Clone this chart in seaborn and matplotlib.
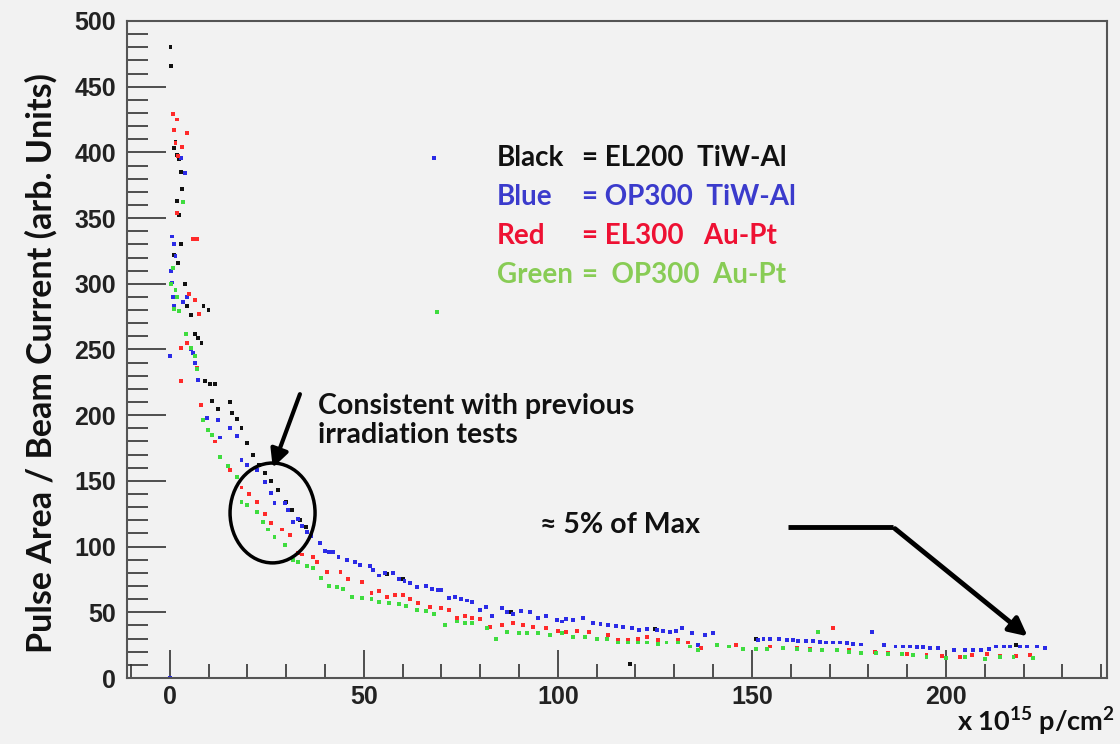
import numpy as np
import pandas as pd
import matplotlib.pyplot as plt
import seaborn as sns
from matplotlib.patches import Ellipse

# data (fluence x 1e15 p/cm2, pulse area / beam current)
black_x = [0.2, 0.3, 1.0, 1.5, 2.0, 2.4, 2.8, 3.2, 1.8, 2.5, 3.5, 1.2, 2.2, 3.0, 4.0,
           4.5, 5.5, 6.5, 7.2, 8.2, 8.7, 10.0, 9.0, 10.5, 11.6, 11.0, 12.4, 15.5, 16.0,
           17.3, 18.5, 19.8, 21.4, 23.0, 24.5, 26.0, 28.0, 30.0, 31.5, 33.5, 35.0,
           56.0, 60.0, 88.0, 118.6, 125.0, 151.0, 218.0]
black_y = [480, 466, 403, 408, 398, 395, 385, 372, 363, 352, 362, 322, 316, 330, 300,
           283, 276, 262, 259, 255, 283, 280, 226, 224, 224, 211, 205, 210, 202,
           197, 190, 179, 170, 162, 156, 150, 143, 134, 128, 120, 115,
           79, 75, 50, 11, 37, 30, 25]

blue_x = [0.0, 0.0, 0.5, 0.3, 0.6, 0.8, 1.0, 1.5, 2.0, 1.0, 3.0, 4.0, 3.5, 4.5, 5.5,
          6.0, 6.5, 7.2, 9.5, 12.4, 13.0, 15.5, 17.3, 18.5, 20.0, 22.4, 24.5, 26.0,
          27.0, 29.6, 30.5, 31.7, 33.0, 34.0, 35.3, 36.5, 38.7, 40.0, 41.0, 42.0,
          43.5, 45.6, 47.7, 49.0, 51.5, 52.5, 54.0, 55.5, 57.5, 59.0, 60.5, 62.0,
          63.6, 66.0, 67.5, 69.0, 70.0, 72.0, 73.5, 75.0, 76.5, 78.0, 80.0, 81.5,
          83.0, 85.5, 87.0, 88.5, 90.5, 92.8, 95.0, 97.0, 99.7, 101.0, 102.0, 104.0,
          106.5, 109.0, 111.0, 113.0, 115.0, 116.8, 119.0, 121.0, 123.0, 125.5,
          127.0, 129.0, 130.5, 132.0, 134.5, 136.0, 138.0, 140.0, 151.5, 153.0,
          154.6, 157.0, 159.0, 160.5, 162.0, 164.0, 165.7, 167.5, 169.0, 171.0,
          172.7, 174.5, 176.0, 178.0, 181.0, 184.0, 187.0, 189.0, 190.7, 192.5,
          194.0, 196.0, 198.0, 202.0, 205.0, 207.0, 209.0, 211.0, 213.0, 215.0,
          216.5, 219.0, 221.0, 223.4, 225.5, 68.0]
blue_y = [0, 245, 336, 310, 301, 290, 283, 321, 354, 330, 396, 384, 286, 290, 250,
          247, 240, 227, 198, 196, 183, 190, 184, 166, 162, 158, 149, 141,
          133, 133, 128, 119, 121, 116, 111, 108, 103, 97, 96, 96,
          92, 90, 88, 86, 85, 82, 78, 80, 80, 75, 74, 72,
          69, 70, 68, 67, 67, 61, 62, 60, 59, 58, 52, 54,
          47, 53, 50, 49, 51, 50, 46, 47, 44, 43, 45, 44,
          45.6, 42, 41, 40, 39.5, 39, 38, 36.5, 37, 36.5,
          36, 35, 35.5, 38, 34, 25, 33, 34, 29, 30,
          30, 29.5, 29, 29, 28, 28, 28, 27.5, 27, 27,
          27, 26.5, 26, 25.5, 35, 25, 24, 24, 24, 23.5,
          23.5, 23, 23, 21, 21, 21, 21, 22, 24, 24,
          24, 24, 24, 24, 23, 396]

red_x = [0.8, 1.8, 1.2, 1.5, 2.2, 3.2, 4.5, 2.0, 6.0, 7.0, 5.0, 6.5, 7.5, 3.0, 4.5,
         3.0, 7.0, 8.0, 11.6, 13.0, 15.5, 18.5, 20.5, 22.4, 24.5, 26.0, 29.0, 31.0,
         33.0, 34.0, 37.0, 38.0, 40.5, 44.0, 46.0, 49.5, 52.0, 54.0, 56.0, 58.0,
         60.0, 62.0, 64.0, 67.0, 70.0, 72.0, 74.0, 76.0, 78.0, 80.0, 82.5, 85.5,
         88.5, 91.0, 93.5, 97.0, 100.0, 102.0, 105.0, 108.0, 110.0, 113.0, 115.5,
         118.0, 120.6, 123.0, 125.8, 128.0, 131.0, 133.5, 137.0, 146.0, 154.6,
         161.6, 165.0, 168.0, 171.0, 175.0, 181.7, 185.0, 190.0, 195.0, 199.0,
         203.6, 206.7, 210.6, 214.0, 218.0, 221.6]
red_y = [429, 425, 417, 407, 397, 404, 415, 354, 334, 334, 292, 288, 277, 251, 255,
         226, 236, 208, 180, 168, 158, 145, 140, 134, 125, 118, 113, 109,
         95, 94, 92, 88, 81, 81, 75, 73, 65, 66, 62, 63,
         63, 60, 57, 54, 53, 52, 46, 47, 46, 45, 39, 40,
         42, 40, 39, 38, 36, 35, 36, 35, 30, 33, 29,
         29, 30, 31, 29, 27, 29, 27, 23, 25, 24,
         23, 22, 21, 38, 21, 20, 19, 18.5, 17.5, 17,
         16, 17.5, 18, 17, 17, 17.5]

green_x = [0.3, 0.8, 1.5, 2.0, 1.0, 2.5, 3.5, 4.3, 5.5, 6.5, 7.0, 8.5, 9.8, 11.0,
           13.0, 15.0, 17.3, 18.5, 20.0, 22.4, 24.0, 25.3, 27.0, 29.6, 31.7, 33.0,
           35.3, 37.0, 39.0, 41.0, 43.0, 44.6, 47.0, 49.5, 52.0, 54.0, 56.5, 59.0,
           61.0, 63.6, 66.0, 68.0, 71.0, 74.0, 76.0, 78.0, 81.7, 84.0, 87.0, 90.0,
           92.0, 95.0, 98.0, 101.0, 104.0, 107.0, 110.0, 112.6, 115.5, 118.0, 120.6,
           123.0, 125.8, 128.0, 131.0, 134.0, 136.0, 141.0, 144.0, 147.7, 151.0,
           154.0, 158.0, 161.6, 165.0, 167.0, 168.0, 172.0, 175.0, 178.0, 182.0,
           185.0, 188.7, 191.5, 195.0, 200.0, 205.0, 210.0, 214.0, 217.4, 222.4, 68.8]
green_y = [300, 312, 295, 290, 281, 279, 362, 262, 251, 245, 235, 196, 189, 185,
           168, 161, 153, 134, 132, 126, 119, 113, 107, 101, 90, 88,
           85, 84, 76, 70, 69, 68, 62, 61, 60, 58, 57, 56,
           55, 52, 51, 49, 40, 43, 42, 42, 38, 30, 35, 34,
           34, 34, 33, 34, 31, 31, 30, 30, 27, 27, 27,
           27, 26, 27, 27, 24, 21, 25, 24, 22, 22,
           22, 23, 22, 21, 35, 21, 21, 20, 19, 19,
           18.5, 18, 17.5, 16, 15, 16, 14.5, 16, 16, 15, 278.5]

samples = ["EL200 TiW-Al", "OP300 TiW-Al", "EL300 Au-Pt", "OP300 Au-Pt"]

df = pd.concat([
    pd.DataFrame({"fluence": black_x, "signal": black_y, "sample": samples[0]}),
    pd.DataFrame({"fluence": blue_x, "signal": blue_y, "sample": samples[1]}),
    pd.DataFrame({"fluence": red_x, "signal": red_y, "sample": samples[2]}),
    pd.DataFrame({"fluence": green_x, "signal": green_y, "sample": samples[3]}),
])

colors = {samples[0]: "#111111", samples[1]: "#2b2be6",
          samples[2]: "#ff2a2a", samples[3]: "#3fdc3f"}

sns.set_theme(style="ticks")
plt.rcParams["font.family"] = ["Lato", "DejaVu Sans"]
plt.rcParams["mathtext.fontset"] = "custom"
plt.rcParams["mathtext.rm"] = "Lato"
plt.rcParams["mathtext.bf"] = "Lato:bold"

bg = "#f2f2f2"
fig = plt.figure(figsize=(11.2, 7.44), dpi=100, facecolor=bg)
ax = fig.add_axes([0.1134, 0.0887, 0.8750, 0.8831])
ax.set_facecolor(bg)

sns.scatterplot(data=df, x="fluence", y="signal", hue="sample", palette=colors,
                marker="s", s=8, linewidth=0, legend=False, ax=ax)

ax.set_xlim(-11, 241.5)
ax.set_ylim(0, 500)
ax.set_xticks([0, 50, 100, 150, 200])
ax.set_xticks(np.arange(-10, 241, 10), minor=True)
ax.set_yticks(np.arange(0, 501, 50))
ax.set_yticks(np.arange(0, 501, 10), minor=True)
ax.tick_params(axis="both", which="both", direction="in", colors="#333333",
               top=False, right=False)
ax.tick_params(axis="y", which="major", length=28, width=1.2, pad=8)
ax.tick_params(axis="y", which="minor", length=15, width=1.2)
ax.tick_params(axis="x", which="major", length=20, width=1.2, pad=5)
ax.tick_params(axis="x", which="minor", length=10, width=1.2)
for lab in ax.get_xticklabels() + ax.get_yticklabels():
    lab.set_fontfamily("Liberation Sans")
    lab.set_fontweight("bold")
    lab.set_fontsize(18)
    lab.set_color("#222222")
for sp in ax.spines.values():
    sp.set_color("#555555")
    sp.set_linewidth(1.5)

ax.set_xlabel("")
ax.set_ylabel("Pulse Area / Beam Current (arb. Units)", fontsize=24.5,
              fontweight="bold", color="#111111")
ax.yaxis.set_label_coords(-0.071, 0.48)
fig.text(0.996, 0.017, r"x 10$^{\mathbf{15}}$ p/cm$^{\mathbf{2}}$", ha="right",
         va="baseline", fontsize=19.5, fontweight="bold", color="#111111")

# colour key written as text
key = [("Black", "= EL200  TiW-Al", "#111111", 395.7),
       ("Blue", "= OP300  TiW-Al", "#3b3bcc", 366.0),
       ("Red", "= EL300   Au-Pt", "#ee1133", 336.3),
       ("Green", "=  OP300  Au-Pt", "#88cc55", 306.7)]
for name, rest, col, yy in key:
    ax.text(84.3, yy, name, color=col, fontsize=20, fontweight="bold", va="center")
    ax.text(106.2, yy, rest, color=col, fontsize=20, fontweight="bold", va="center")

ax.text(38.1, 196, "Consistent with previous\nirradiation tests", fontsize=20.5,
        fontweight="bold", color="#111111", va="center", linespacing=1.15)
ax.annotate("", xy=(26.3, 158), xytext=(33.8, 218),
            arrowprops=dict(arrowstyle="-|>,head_length=0.9,head_width=0.45",
                            color="black", lw=3))
ax.add_patch(Ellipse((26.5, 125.6), 21.9, 76, fill=False, lw=2.5, color="black"))

ax.text(95.4, 116.4, "\u2248 5% of Max", fontsize=20.5, fontweight="bold",
        color="#111111", va="center")
ax.plot([159.3, 186.3], [115, 115], color="black", lw=3.5, solid_capstyle="butt")
ax.annotate("", xy=(221.6, 30.4), xytext=(186.3, 115),
            arrowprops=dict(arrowstyle="-|>,head_length=0.9,head_width=0.45",
                            color="black", lw=3.5))

fig.savefig("out.png", dpi=100, facecolor=bg)
